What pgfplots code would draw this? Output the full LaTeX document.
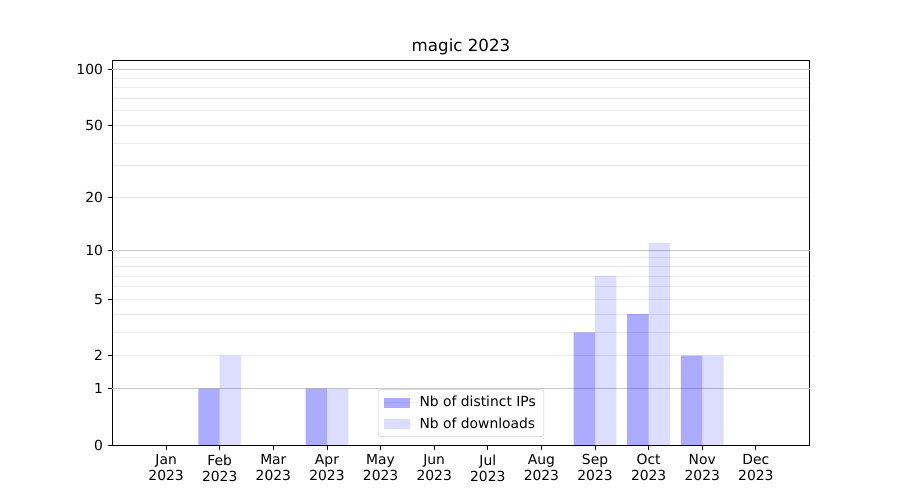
\documentclass[border=0pt]{standalone}
\usepackage{fontspec}
\setmainfont{DejaVu Sans}
\usepackage{pgfplots}
\pgfplotsset{compat=1.18}

\pgfplotstableread{
m ips dl
0 0 0
1 1 2
2 0 0
3 1 1
4 0 0
5 0 0
6 0 0
7 0 0
8 3 7
9 4 11
10 2 2
11 0 0
}\downloads

\definecolor{gridlight}{RGB}{235,235,235}
\definecolor{griddark}{RGB}{200,200,200}

\begin{document}
\begin{tikzpicture}
\begin{axis}[
    at={(0,0)}, anchor=south west,
    scale only axis,
    width=522.75pt, height=288.75pt,
    font=\fontsize{10.4}{12}\selectfont,
    title={magic 2023},
    title style={font=\fontsize{12.5}{14}\selectfont, yshift=-6pt},
    ybar=0pt, bar width=0.4,
    xmin=-1, xmax=12,
    ymin=0, ymax=113,
    y coord trafo/.code={\pgfmathparse{log10(1+#1)}},
    y coord inv trafo/.code={\pgfmathparse{10^(#1)-1}},
    xtick={0,...,11},
    xticklabels={Jan\\2023,Feb\\2023,Mar\\2023,Apr\\2023,May\\2023,Jun\\2023,Jul\\2023,Aug\\2023,Sep\\2023,Oct\\2023,Nov\\2023,Dec\\2023},
    xticklabel style={align=center},
    ytick={0,1,2,5,10,20,50,100},
    yticklabels={0,1,2,5,10,20,50,100},
    minor ytick={3,4,6,7,8,9,30,40,60,70,80,90},
    ymajorgrids, yminorgrids,
    major grid style={gridlight, line width=0.6pt},
    minor grid style={gridlight, line width=0.6pt},
    extra y ticks={1,10,100},
    extra y tick labels={},
    extra y tick style={grid=major, major grid style={griddark, line width=0.6pt},
        major tick length=0pt},
    tick align=outside,
    major tick length=3.65pt,
    minor tick length=0pt,
    xtick pos=bottom, ytick pos=left,
    tick style={black, line width=0.6pt},
    axis line style={line width=0.6pt},
    legend style={at={(0.5,0.0208)}, anchor=south, draw=black!20, rounded corners=2pt,
        font=\fontsize{10.4}{12}\selectfont, row sep=2.5pt, inner xsep=4pt, inner ysep=3pt,
        cells={anchor=west}},
    legend image code/.code={
        \fill[#1, sharp corners] (0pt,-3.75pt) rectangle (20pt,3.75pt);
        \path (0pt,0pt) -- (25pt,0pt);},
]
\addplot[draw=none, fill=blue, fill opacity=0.33] table[x=m, y=ips] {\downloads};
\addplot[draw=none, fill=blue, fill opacity=0.135] table[x=m, y=dl] {\downloads};
\legend{Nb of distinct IPs, Nb of downloads}
\end{axis}
\useasboundingbox (-84.375pt,-41.25pt) rectangle (590.625pt,333.75pt);
\end{tikzpicture}
\end{document}
